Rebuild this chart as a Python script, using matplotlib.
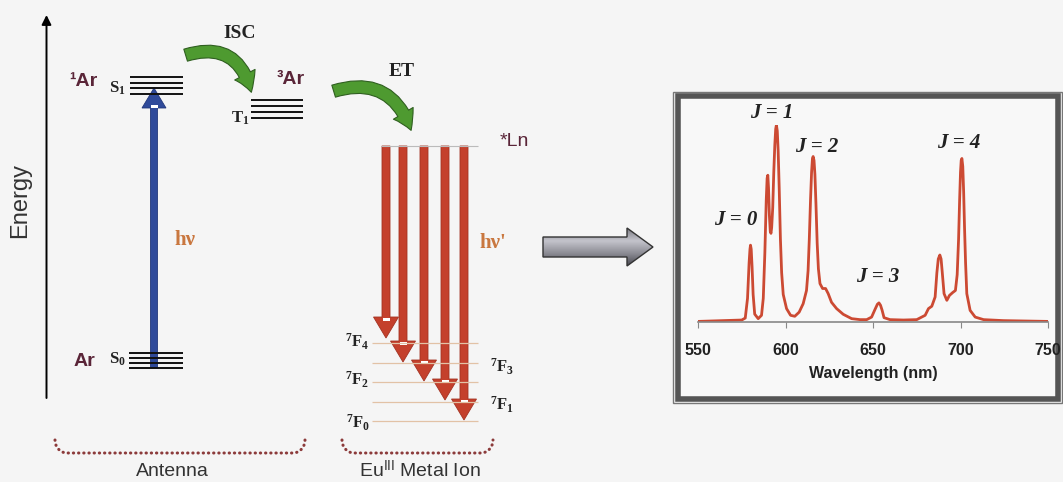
import numpy as np
import matplotlib
matplotlib.use('Agg')
import matplotlib.pyplot as plt
from matplotlib import patches
from matplotlib.colors import LinearSegmentedColormap

SANS = 'Liberation Sans'
SERIF = 'Liberation Serif'
plt.rcParams['mathtext.fontset'] = 'custom'
plt.rcParams['mathtext.rm'] = SERIF
plt.rcParams['mathtext.bf'] = SERIF + ':bold'
plt.rcParams['mathtext.it'] = SERIF + ':italic'
plt.rcParams['mathtext.sf'] = SANS

W, H = 1063, 482

# Eu(III) emission spectrum (nm, relative intensity)
wavelength = [550, 575, 577, 578.3, 579.2, 579.7, 580.0, 580.4, 580.9, 581.5,
              582.4, 584.4, 586.3, 587.3, 588.2, 589.0, 589.5, 589.9, 590.3, 590.8,
              591.3, 591.7, 592.1, 592.7, 593.3, 593.9, 594.4, 594.8, 595.3, 595.8,
              596.4, 597.1, 597.8, 598.7, 600.6, 602.9, 605.3, 607.8, 610.1, 612.0,
              612.9, 613.6, 614.3, 614.9, 615.4, 615.8, 616.3, 616.8, 617.4, 618.1,
              618.8, 619.7, 621.2, 622.9, 624.4, 626.3, 629.2, 633.0, 637.8, 642.6,
              646.4, 649.2, 651.1, 652.5, 653.4, 654.3, 655.2, 656.3, 659.7, 667.4,
              675.0, 679.8, 681.7, 683.6, 685.5, 686.5, 687.3, 688.2, 688.9, 689.5,
              690.6, 692.2, 693.7, 695.6, 697.1, 698.1, 698.9, 699.5, 700.0, 700.4,
              700.8, 701.3, 701.8, 702.3, 702.9, 703.6, 705.5, 708.4, 713.2, 724.6,
              750]
intensity = [0.003, 0.01, 0.02, 0.12, 0.30, 0.37, 0.39, 0.37, 0.28, 0.14,
             0.04, 0.017, 0.034, 0.12, 0.35, 0.62, 0.73, 0.745, 0.68, 0.54,
             0.46, 0.45, 0.48, 0.58, 0.76, 0.90, 0.98, 1.0, 0.97, 0.87,
             0.68, 0.42, 0.25, 0.14, 0.068, 0.034, 0.029, 0.05, 0.093, 0.16,
             0.26, 0.42, 0.62, 0.76, 0.83, 0.84, 0.82, 0.75, 0.60, 0.40,
             0.27, 0.195, 0.17, 0.17, 0.144, 0.10, 0.068, 0.039, 0.017, 0.012,
             0.012, 0.025, 0.063, 0.09, 0.097, 0.085, 0.06, 0.022, 0.012, 0.01,
             0.012, 0.034, 0.068, 0.08, 0.127, 0.25, 0.32, 0.34, 0.32, 0.26,
             0.144, 0.11, 0.135, 0.15, 0.16, 0.24, 0.42, 0.62, 0.76, 0.82,
             0.83, 0.79, 0.66, 0.48, 0.30, 0.144, 0.059, 0.025, 0.012, 0.007,
             0.003]
wl_ticks = [550, 600, 650, 700, 750]
j_labels = ['J = 0', 'J = 1', 'J = 2', 'J = 3', 'J = 4']
j_wl = [571.7, 592.1, 617.8, 652.9, 699.1]
j_int = [0.52, 1.06, 0.89, 0.23, 0.91]

# Jablonski diagram levels (pixel rows)
s1_levels = [77, 83, 88, 94]
t1_levels = [100, 106, 112, 118]
s0_levels = [353, 358, 363, 368]
ln_level = 146
f_levels = [343, 363, 382, 402, 421]
f_labels = [r'$\mathbf{^7F_4}$', r'$\mathbf{^7F_3}$', r'$\mathbf{^7F_2}$',
            r'$\mathbf{^7F_1}$', r'$\mathbf{^7F_0}$']
f_label_x = [357, 502, 357, 502, 358]
f_label_y = [342, 367, 380, 405, 423]
red_x = [386, 403, 424, 445, 464]
red_tip = [338, 362, 381, 400, 420]

fig = plt.figure(figsize=(W / 100, H / 100), dpi=100, facecolor='#f5f5f5')
ax = fig.add_axes([0, 0, 1, 1])
ax.set_xlim(0, W)
ax.set_ylim(H, 0)
ax.axis('off')

# energy axis
ax.annotate('', xy=(46.5, 15), xytext=(46.5, 398),
            arrowprops=dict(arrowstyle='-|>', color='k', lw=1.4, mutation_scale=14,
                            shrinkA=0, shrinkB=0))
ax.text(20, 201, 'Energy', rotation=90, ha='center', va='center',
        fontsize=17, family=SANS, color='#333')

# antenna levels
ax.hlines(s1_levels, 130, 183, color='#111', lw=1.4)
ax.hlines(t1_levels, 251, 303, color='#111', lw=1.4)
ax.hlines(s0_levels, 129, 183, color='#111', lw=1.4)

maroon = '#5a2538'
ax.text(83, 82, '¹Ar', ha='center', va='center', fontsize=14, family=SANS,
        weight='bold', color=maroon)
ax.text(291, 79, '³Ar', ha='center', va='center', fontsize=14, family=SANS,
        weight='bold', color=maroon)
ax.text(84, 362, 'Ar', ha='center', va='center', fontsize=14, family=SANS,
        weight='bold', color=maroon)
ax.text(117, 88, r'$\mathbf{S_1}$', ha='center', va='center', fontsize=12, color='#222')
ax.text(117, 359, r'$\mathbf{S_0}$', ha='center', va='center', fontsize=12, color='#222')
ax.text(240, 118, r'$\mathbf{T_1}$', ha='center', va='center', fontsize=12, color='#222')

# excitation arrow
ax.add_patch(patches.FancyArrow(154, s0_levels[-1], 0, 88 - s0_levels[-1], width=7,
                                head_width=24, head_length=20, length_includes_head=True,
                                fc='#2f4a9a', ec='#22377a', lw=0.6))
ax.add_patch(patches.Rectangle((150.5, 104.5), 7, 3.2, fc='white', ec='none'))
ax.text(185, 240, 'hν', ha='center', va='center', fontsize=15, family=SERIF,
        weight='bold', color='#c9773f')

# ISC and ET curved arrows
green_style = 'simple,head_length=0.45,head_width=0.55,tail_width=0.3'
ax.add_patch(patches.FancyArrowPatch((183, 56), (252, 95), connectionstyle='arc3,rad=-0.55',
                                     arrowstyle=green_style, mutation_scale=30,
                                     fc='#4e9a30', ec='#2f5f20', lw=0.8))
ax.add_patch(patches.FancyArrowPatch((331, 92), (412, 133), connectionstyle='arc3,rad=-0.5',
                                     arrowstyle=green_style, mutation_scale=30,
                                     fc='#4e9a30', ec='#2f5f20', lw=0.8))
ax.text(240, 34, 'ISC', ha='center', va='center', fontsize=14, family=SERIF,
        weight='bold', color='#222')
ax.text(402, 71, 'ET', ha='center', va='center', fontsize=14, family=SERIF,
        weight='bold', color='#222')

# lanthanide levels and emission arrows
ax.hlines([ln_level], 381, 478, color='#bbbbbb', lw=0.8)
ax.hlines(f_levels, 372, 478, color='#e2c2a6', lw=0.9)
ax.text(514, 141, '*Ln', ha='center', va='center', fontsize=14, family=SANS, color=maroon)
for x, tip in zip(red_x, red_tip):
    ax.add_patch(patches.FancyArrow(x, ln_level, 0, tip - ln_level, width=8,
                                    head_width=25, head_length=21, length_includes_head=True,
                                    fc='#c4402c', ec='#a33222', lw=0.6))
    ax.add_patch(patches.Rectangle((x - 3.5, tip - 20.5), 7, 3.2, fc='white', ec='none'))
for lab, x, y in zip(f_labels, f_label_x, f_label_y):
    ax.text(x, y, lab, ha='center', va='center', fontsize=12, color='#222')
ax.text(493, 243, "hν'", ha='center', va='center', fontsize=15, family=SERIF,
        weight='bold', color='#c9773f')


# dotted brackets
def bracket(x0, x1, ytop, ybot, r=12):
    t = np.linspace(0, np.pi / 2, 12)
    left_x = x0 + r - r * np.cos(t)
    left_y = ytop + (ybot - ytop) * np.sin(t)
    xs = np.concatenate([left_x, (x0 + x1 - left_x)[::-1]])
    ys = np.concatenate([left_y, left_y[::-1]])
    ax.plot(xs, ys, color='#8c3b3b', lw=2.2, linestyle=(0, (0.1, 1.6)),
            dash_capstyle='round', solid_capstyle='round')


bracket(55, 305, 440, 453)
bracket(342, 493, 440, 453)
ax.text(172, 471, 'Antenna', ha='center', va='center', fontsize=14, family=SANS, color='#333')
ax.text(420, 471, r'Eu$^{\mathsf{III}}$ Metal Ion', ha='center', va='center',
        fontsize=14, family=SANS, color='#333')

# grey block arrow
arrow_pts = [(543, 237), (627, 237), (627, 228), (653, 247), (627, 266), (627, 257), (543, 257)]
block = patches.Polygon(arrow_pts, closed=True, fc='none', ec='#333', lw=1, zorder=3)
ax.add_patch(block)
grey = LinearSegmentedColormap.from_list('grey', ['#7a7a82', '#c4c4cc', '#8c8c94', '#4a4a52'])
im = ax.imshow(np.linspace(0, 1, 60).reshape(-1, 1), extent=(543, 653, 266, 228),
               cmap=grey, aspect='auto', origin='upper', zorder=2)
im.set_clip_path(block)

# spectrum panel frame
ax.add_patch(patches.Rectangle((672.5, 91.5), 1062 - 672.5, 402.5 - 91.5, fill=False,
                               ec='#777', lw=1))
ax.add_patch(patches.Rectangle((678, 96), 1058 - 678, 399 - 96, fc='#f8f8f8',
                               ec='#555', lw=4))
ax.set_xlim(0, W)
ax.set_ylim(H, 0)

# spectrum
sp = fig.add_axes([698 / W, 1 - 322 / H, 350 / W, 197 / H])
sp.patch.set_alpha(0)
sp.plot(wavelength, intensity, color='#cc4a33', lw=2)
sp.set_xlim(550, 750)
sp.set_ylim(0, 1)
for s in ['top', 'right', 'left']:
    sp.spines[s].set_visible(False)
sp.spines['bottom'].set_color('#888')
sp.spines['bottom'].set_linewidth(1.2)
sp.set_yticks([])
sp.set_xticks(wl_ticks)
sp.tick_params(axis='x', direction='out', length=4, color='#888', pad=11)
for lab in sp.get_xticklabels():
    lab.set_fontfamily(SANS)
    lab.set_fontweight('bold')
    lab.set_fontsize(11.5)
    lab.set_color('#222')
sp.set_xlabel('Wavelength (nm)', fontsize=11.5, family=SANS, weight='bold',
              color='#222', labelpad=6)
for lab, x, y in zip(j_labels, j_wl, j_int):
    sp.text(x, y, lab, ha='center', va='center', fontsize=15, family=SERIF,
            weight='bold', style='italic', color='#222')

fig.savefig('out.png', dpi=100, facecolor=fig.get_facecolor())
